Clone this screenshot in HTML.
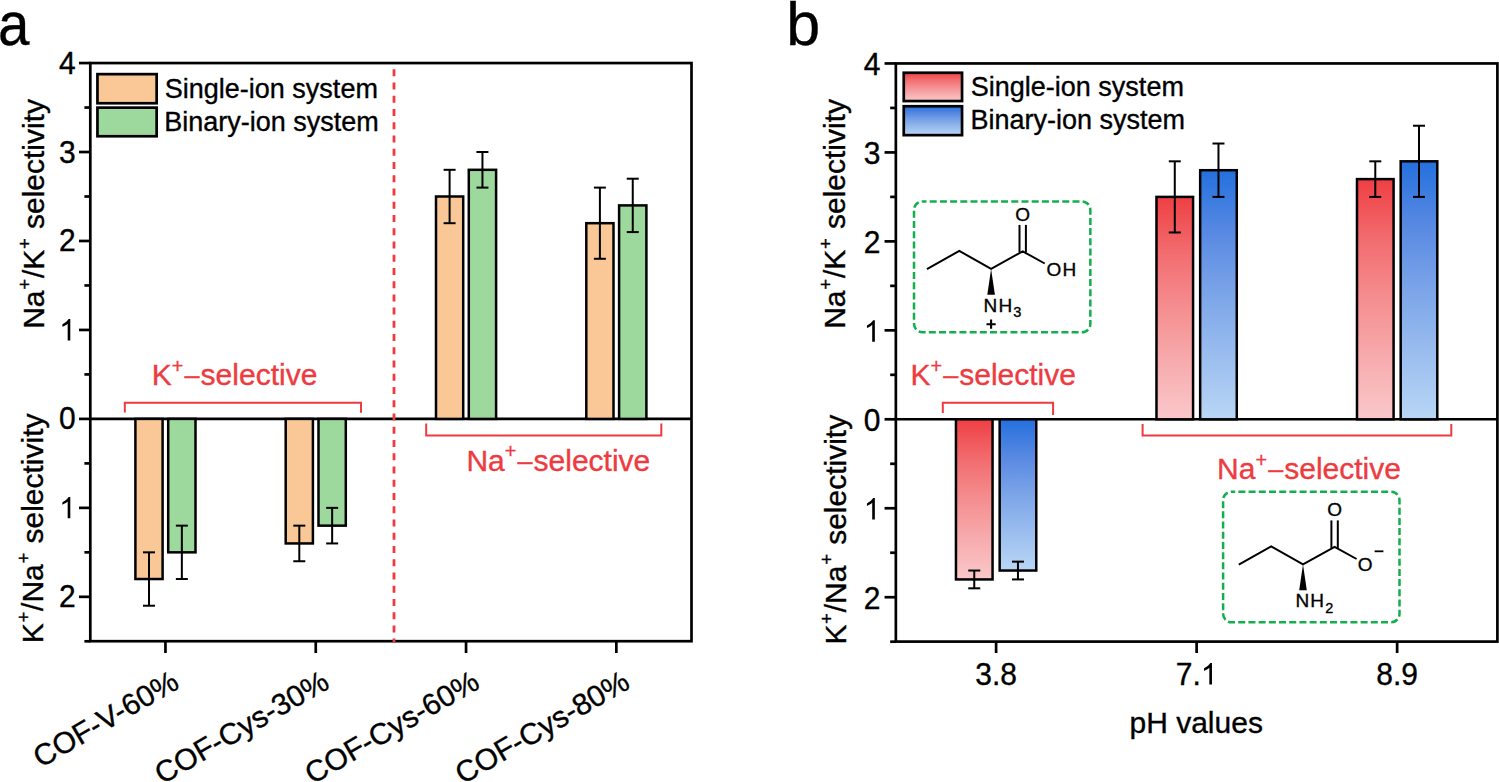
<!DOCTYPE html>
<html><head><meta charset="utf-8"><style>
html,body{margin:0;padding:0;background:#fff;}
svg{display:block;font-family:"Liberation Sans", sans-serif;}
text{stroke:#000;stroke-width:0.35px;}
text.r{stroke:#ED3B3F;}
</style></head><body>
<svg width="1499" height="782" viewBox="0 0 1499 782" font-family='"Liberation Sans", sans-serif'>
<defs><linearGradient id="gr" x1="0" y1="0" x2="0" y2="1"><stop offset="0" stop-color="#EF3F43"/><stop offset=".25" stop-color="#F26C6F"/><stop offset=".5" stop-color="#F58E90"/><stop offset=".75" stop-color="#F7ACAE"/><stop offset="1" stop-color="#FAC8CA"/></linearGradient><linearGradient id="gb" x1="0" y1="0" x2="0" y2="1"><stop offset="0" stop-color="#2470DE"/><stop offset=".25" stop-color="#5889E2"/><stop offset=".5" stop-color="#7CA5E8"/><stop offset=".75" stop-color="#9BBEEF"/><stop offset="1" stop-color="#B9D6F5"/></linearGradient><path id="one" d="M763,0 L583,0 L583,1147 Q518,1085 412,1023 Q307,961 223,930 L223,1104 Q374,1175 487,1276 Q600,1377 647,1466 L763,1466 Z"/></defs>
<rect width="1499" height="782" fill="#fff"/>
<text x="0" y="0" font-size="61" transform="translate(-2.07 44.9) scale(0.925 1)">a</text>
<rect x="90.3" y="63.06" width="601.2" height="578.14" fill="none" stroke="#000" stroke-width="2.7"/>
<line x1="90.3" y1="63.06" x2="79" y2="63.06" stroke="#000" stroke-width="2.7" />
<text x="0" y="0" font-size="30" text-anchor="end" transform="translate(75.8 73.56) scale(1 1.04)">4</text>
<line x1="90.3" y1="152.02" x2="79" y2="152.02" stroke="#000" stroke-width="2.7" />
<text x="0" y="0" font-size="30" text-anchor="end" transform="translate(75.8 162.52) scale(1 1.04)">3</text>
<line x1="90.3" y1="240.98" x2="79" y2="240.98" stroke="#000" stroke-width="2.7" />
<text x="0" y="0" font-size="30" text-anchor="end" transform="translate(75.8 251.48) scale(1 1.04)">2</text>
<line x1="90.3" y1="329.94" x2="79" y2="329.94" stroke="#000" stroke-width="2.7" />
<use href="#one" transform="translate(59.12 340.44) scale(0.01465 -0.01465)"/>
<line x1="90.3" y1="418.9" x2="79" y2="418.9" stroke="#000" stroke-width="2.7" />
<text x="0" y="0" font-size="30" text-anchor="end" transform="translate(75.8 429.4) scale(1 1.04)">0</text>
<line x1="90.3" y1="507.86" x2="79" y2="507.86" stroke="#000" stroke-width="2.7" />
<use href="#one" transform="translate(59.12 518.36) scale(0.01465 -0.01465)"/>
<line x1="90.3" y1="596.82" x2="79" y2="596.82" stroke="#000" stroke-width="2.7" />
<text x="0" y="0" font-size="30" text-anchor="end" transform="translate(75.8 607.32) scale(1 1.04)">2</text>
<line x1="90.3" y1="107.54" x2="84.4" y2="107.54" stroke="#000" stroke-width="2.7" />
<line x1="90.3" y1="196.5" x2="84.4" y2="196.5" stroke="#000" stroke-width="2.7" />
<line x1="90.3" y1="285.46" x2="84.4" y2="285.46" stroke="#000" stroke-width="2.7" />
<line x1="90.3" y1="374.42" x2="84.4" y2="374.42" stroke="#000" stroke-width="2.7" />
<line x1="90.3" y1="463.38" x2="84.4" y2="463.38" stroke="#000" stroke-width="2.7" />
<line x1="90.3" y1="552.34" x2="84.4" y2="552.34" stroke="#000" stroke-width="2.7" />
<line x1="90.3" y1="641.3" x2="84.4" y2="641.3" stroke="#000" stroke-width="2.7" />
<line x1="90.3" y1="418.9" x2="691.5" y2="418.9" stroke="#000" stroke-width="2.6" />
<line x1="394" y1="69.3" x2="394" y2="642.5" stroke="#EE3A40" stroke-width="2.8" stroke-dasharray="7 6.24"/>
<rect x="135.4" y="418.9" width="27.2" height="160.13" fill="#FAC896" stroke="#000" stroke-width="2.5"/>
<rect x="168.2" y="418.9" width="27.3" height="133.44" fill="#9DD99C" stroke="#000" stroke-width="2.5"/>
<line x1="149" y1="605.72" x2="149" y2="552.34" stroke="#000" stroke-width="2.0" />
<line x1="143" y1="605.72" x2="155" y2="605.72" stroke="#000" stroke-width="2.0" />
<line x1="143" y1="552.34" x2="155" y2="552.34" stroke="#000" stroke-width="2.0" />
<line x1="181.85" y1="579.03" x2="181.85" y2="525.65" stroke="#000" stroke-width="2.0" />
<line x1="175.85" y1="579.03" x2="187.85" y2="579.03" stroke="#000" stroke-width="2.0" />
<line x1="175.85" y1="525.65" x2="187.85" y2="525.65" stroke="#000" stroke-width="2.0" />
<line x1="165.45" y1="641.2" x2="165.45" y2="653" stroke="#000" stroke-width="2.7" />
<rect x="285.7" y="418.9" width="27.2" height="124.54" fill="#FAC896" stroke="#000" stroke-width="2.5"/>
<rect x="318.5" y="418.9" width="27.3" height="106.75" fill="#9DD99C" stroke="#000" stroke-width="2.5"/>
<line x1="299.3" y1="561.24" x2="299.3" y2="525.65" stroke="#000" stroke-width="2.0" />
<line x1="293.3" y1="561.24" x2="305.3" y2="561.24" stroke="#000" stroke-width="2.0" />
<line x1="293.3" y1="525.65" x2="305.3" y2="525.65" stroke="#000" stroke-width="2.0" />
<line x1="332.15" y1="543.44" x2="332.15" y2="507.86" stroke="#000" stroke-width="2.0" />
<line x1="326.15" y1="543.44" x2="338.15" y2="543.44" stroke="#000" stroke-width="2.0" />
<line x1="326.15" y1="507.86" x2="338.15" y2="507.86" stroke="#000" stroke-width="2.0" />
<line x1="315.75" y1="641.2" x2="315.75" y2="653" stroke="#000" stroke-width="2.7" />
<rect x="436" y="196.5" width="27.2" height="222.4" fill="#FAC896" stroke="#000" stroke-width="2.5"/>
<rect x="468.8" y="169.81" width="27.3" height="249.09" fill="#9DD99C" stroke="#000" stroke-width="2.5"/>
<line x1="449.6" y1="223.19" x2="449.6" y2="169.81" stroke="#000" stroke-width="2.0" />
<line x1="443.6" y1="223.19" x2="455.6" y2="223.19" stroke="#000" stroke-width="2.0" />
<line x1="443.6" y1="169.81" x2="455.6" y2="169.81" stroke="#000" stroke-width="2.0" />
<line x1="482.45" y1="187.6" x2="482.45" y2="152.02" stroke="#000" stroke-width="2.0" />
<line x1="476.45" y1="187.6" x2="488.45" y2="187.6" stroke="#000" stroke-width="2.0" />
<line x1="476.45" y1="152.02" x2="488.45" y2="152.02" stroke="#000" stroke-width="2.0" />
<line x1="466.05" y1="641.2" x2="466.05" y2="653" stroke="#000" stroke-width="2.7" />
<rect x="586.3" y="223.19" width="27.2" height="195.71" fill="#FAC896" stroke="#000" stroke-width="2.5"/>
<rect x="619.1" y="205.4" width="27.3" height="213.5" fill="#9DD99C" stroke="#000" stroke-width="2.5"/>
<line x1="599.9" y1="258.77" x2="599.9" y2="187.6" stroke="#000" stroke-width="2.0" />
<line x1="593.9" y1="258.77" x2="605.9" y2="258.77" stroke="#000" stroke-width="2.0" />
<line x1="593.9" y1="187.6" x2="605.9" y2="187.6" stroke="#000" stroke-width="2.0" />
<line x1="632.75" y1="232.08" x2="632.75" y2="178.71" stroke="#000" stroke-width="2.0" />
<line x1="626.75" y1="232.08" x2="638.75" y2="232.08" stroke="#000" stroke-width="2.0" />
<line x1="626.75" y1="178.71" x2="638.75" y2="178.71" stroke="#000" stroke-width="2.0" />
<line x1="616.35" y1="641.2" x2="616.35" y2="653" stroke="#000" stroke-width="2.7" />
<rect x="97.45" y="74.15" width="59.2" height="29.1" fill="#FAC896" stroke="#000" stroke-width="2.7"/>
<rect x="97.45" y="107.65" width="59.2" height="28.6" fill="#9DD99C" stroke="#000" stroke-width="2.7"/>
<text x="164.8" y="97.6" font-size="27" text-anchor="start" fill="#000" >Single-ion system</text>
<text x="164.2" y="131" font-size="27" text-anchor="start" fill="#000" >Binary-ion system</text>
<path d="M124.8,412.5 V402.8 H361 V412.7" fill="none" stroke="#ED3B3F" stroke-width="2"/>
<path d="M426.2,423.6 V435.6 H661.3 V423.6" fill="none" stroke="#ED3B3F" stroke-width="2"/>
<text class="r" x="151.8" y="385" font-size="30" fill="#ED3B3F">K<tspan font-size="19.8" dy="-12.5">+</tspan><tspan font-size="27" dx="1.2" dy="11.5">–</tspan><tspan dx="1" dy="1">selective</tspan></text>
<text class="r" x="466.4" y="470.8" font-size="30" fill="#ED3B3F">Na<tspan font-size="19.8" dy="-12.5">+</tspan><tspan font-size="27" dx="1.2" dy="11.5">–</tspan><tspan dx="1" dy="1">selective</tspan></text>
<text x="180.75" y="687.3" font-size="30" text-anchor="end" transform="rotate(-30 180.75 687.3)">COF-V-60%</text>
<text x="331.05" y="687.3" font-size="30" text-anchor="end" transform="rotate(-30 331.05 687.3)">COF-Cys-30%</text>
<text x="481.35" y="687.3" font-size="30" text-anchor="end" transform="rotate(-30 481.35 687.3)">COF-Cys-60%</text>
<text x="631.65" y="687.3" font-size="30" text-anchor="end" transform="rotate(-30 631.65 687.3)">COF-Cys-80%</text>
<text x="0" y="0" font-size="30" transform="translate(43.8 328.8) rotate(-90)">Na<tspan font-size="18.6" dy="-13" dx="0.7">+</tspan><tspan dy="13" dx="0.8">/K</tspan><tspan font-size="18.6" dy="-13" dx="0.7">+</tspan><tspan dy="13" dx="0.8"> selectivity</tspan></text>
<text x="0" y="0" font-size="30" transform="translate(42.6 643.3) rotate(-90)">K<tspan font-size="18.6" dy="-13" dx="0.7">+</tspan><tspan dy="13" dx="0.8">/Na</tspan><tspan font-size="18.6" dy="-13" dx="0.7">+</tspan><tspan dy="13" dx="0.8"> selectivity</tspan></text>
<text x="786.3" y="44.9" font-size="61" text-anchor="start" fill="#000" >b</text>
<rect x="895.85" y="63.45" width="601.55" height="578.15" fill="none" stroke="#000" stroke-width="2.7"/>
<line x1="895.85" y1="63.46" x2="884.55" y2="63.46" stroke="#000" stroke-width="2.7" />
<text x="0" y="0" font-size="30" text-anchor="end" transform="translate(880.35 74.76) scale(1 1.04)">4</text>
<line x1="895.85" y1="152.42" x2="884.55" y2="152.42" stroke="#000" stroke-width="2.7" />
<text x="0" y="0" font-size="30" text-anchor="end" transform="translate(880.35 163.72) scale(1 1.04)">3</text>
<line x1="895.85" y1="241.38" x2="884.55" y2="241.38" stroke="#000" stroke-width="2.7" />
<text x="0" y="0" font-size="30" text-anchor="end" transform="translate(880.35 252.68) scale(1 1.04)">2</text>
<line x1="895.85" y1="330.34" x2="884.55" y2="330.34" stroke="#000" stroke-width="2.7" />
<use href="#one" transform="translate(863.67 341.64) scale(0.01465 -0.01465)"/>
<line x1="895.85" y1="419.3" x2="884.55" y2="419.3" stroke="#000" stroke-width="2.7" />
<text x="0" y="0" font-size="30" text-anchor="end" transform="translate(880.35 430.6) scale(1 1.04)">0</text>
<line x1="895.85" y1="508.26" x2="884.55" y2="508.26" stroke="#000" stroke-width="2.7" />
<use href="#one" transform="translate(863.67 519.56) scale(0.01465 -0.01465)"/>
<line x1="895.85" y1="597.22" x2="884.55" y2="597.22" stroke="#000" stroke-width="2.7" />
<text x="0" y="0" font-size="30" text-anchor="end" transform="translate(880.35 608.52) scale(1 1.04)">2</text>
<line x1="895.85" y1="107.94" x2="890.15" y2="107.94" stroke="#000" stroke-width="2.7" />
<line x1="895.85" y1="196.9" x2="890.15" y2="196.9" stroke="#000" stroke-width="2.7" />
<line x1="895.85" y1="285.86" x2="890.15" y2="285.86" stroke="#000" stroke-width="2.7" />
<line x1="895.85" y1="374.82" x2="890.15" y2="374.82" stroke="#000" stroke-width="2.7" />
<line x1="895.85" y1="463.78" x2="890.15" y2="463.78" stroke="#000" stroke-width="2.7" />
<line x1="895.85" y1="552.74" x2="890.15" y2="552.74" stroke="#000" stroke-width="2.7" />
<line x1="895.85" y1="641.7" x2="890.15" y2="641.7" stroke="#000" stroke-width="2.7" />
<line x1="895.85" y1="419.3" x2="1497.4" y2="419.3" stroke="#000" stroke-width="2.6" />
<rect x="955.96" y="419.3" width="36.6" height="160.13" fill="url(#gr)" stroke="#000" stroke-width="2.5"/>
<rect x="999.66" y="419.3" width="36.6" height="151.23" fill="url(#gb)" stroke="#000" stroke-width="2.5"/>
<line x1="974.26" y1="588.32" x2="974.26" y2="570.53" stroke="#000" stroke-width="2.0" />
<line x1="968.26" y1="588.32" x2="980.26" y2="588.32" stroke="#000" stroke-width="2.0" />
<line x1="968.26" y1="570.53" x2="980.26" y2="570.53" stroke="#000" stroke-width="2.0" />
<line x1="1017.96" y1="579.43" x2="1017.96" y2="561.64" stroke="#000" stroke-width="2.0" />
<line x1="1011.96" y1="579.43" x2="1023.96" y2="579.43" stroke="#000" stroke-width="2.0" />
<line x1="1011.96" y1="561.64" x2="1023.96" y2="561.64" stroke="#000" stroke-width="2.0" />
<line x1="996.11" y1="641.6" x2="996.11" y2="653" stroke="#000" stroke-width="2.7" />
<rect x="1156.47" y="196.9" width="36.6" height="222.4" fill="url(#gr)" stroke="#000" stroke-width="2.5"/>
<rect x="1200.17" y="170.21" width="36.6" height="249.09" fill="url(#gb)" stroke="#000" stroke-width="2.5"/>
<line x1="1174.78" y1="232.48" x2="1174.78" y2="161.32" stroke="#000" stroke-width="2.0" />
<line x1="1168.78" y1="232.48" x2="1180.78" y2="232.48" stroke="#000" stroke-width="2.0" />
<line x1="1168.78" y1="161.32" x2="1180.78" y2="161.32" stroke="#000" stroke-width="2.0" />
<line x1="1218.47" y1="196.9" x2="1218.47" y2="143.52" stroke="#000" stroke-width="2.0" />
<line x1="1212.47" y1="196.9" x2="1224.47" y2="196.9" stroke="#000" stroke-width="2.0" />
<line x1="1212.47" y1="143.52" x2="1224.47" y2="143.52" stroke="#000" stroke-width="2.0" />
<line x1="1196.62" y1="641.6" x2="1196.62" y2="653" stroke="#000" stroke-width="2.7" />
<rect x="1356.99" y="179.11" width="36.6" height="240.19" fill="url(#gr)" stroke="#000" stroke-width="2.5"/>
<rect x="1400.69" y="161.32" width="36.6" height="257.98" fill="url(#gb)" stroke="#000" stroke-width="2.5"/>
<line x1="1375.29" y1="196.9" x2="1375.29" y2="161.32" stroke="#000" stroke-width="2.0" />
<line x1="1369.29" y1="196.9" x2="1381.29" y2="196.9" stroke="#000" stroke-width="2.0" />
<line x1="1369.29" y1="161.32" x2="1381.29" y2="161.32" stroke="#000" stroke-width="2.0" />
<line x1="1418.99" y1="196.9" x2="1418.99" y2="125.73" stroke="#000" stroke-width="2.0" />
<line x1="1412.99" y1="196.9" x2="1424.99" y2="196.9" stroke="#000" stroke-width="2.0" />
<line x1="1412.99" y1="125.73" x2="1424.99" y2="125.73" stroke="#000" stroke-width="2.0" />
<line x1="1397.14" y1="641.6" x2="1397.14" y2="653" stroke="#000" stroke-width="2.7" />
<text x="0" y="0" font-size="30" text-anchor="middle" transform="translate(996.11 684.5) scale(1 1.04)">3.8</text>
<text x="0" y="0" font-size="30" transform="translate(1175.77 684.5) scale(1 1.04)">7.</text>
<use href="#one" transform="translate(1200.79 684.5) scale(0.01465 -0.01465)"/>
<text x="0" y="0" font-size="30" text-anchor="middle" transform="translate(1397.14 684.5) scale(1 1.04)">8.9</text>
<text x="1196.2" y="733.3" font-size="30" text-anchor="middle" fill="#000" >pH values</text>
<rect x="903.75" y="72.75" width="58.3" height="28.3" fill="url(#gr)" stroke="#000" stroke-width="2.7"/>
<rect x="903.75" y="106.25" width="58.3" height="28.9" fill="url(#gb)" stroke="#000" stroke-width="2.7"/>
<text x="970.8" y="96.2" font-size="27" text-anchor="start" fill="#000" >Single-ion system</text>
<text x="970.5" y="128.9" font-size="27" text-anchor="start" fill="#000" >Binary-ion system</text>
<path d="M942.8,413 V402.8 H1053.1 V415" fill="none" stroke="#ED3B3F" stroke-width="2"/>
<path d="M1142.6,424 V435.4 H1451.3 V424" fill="none" stroke="#ED3B3F" stroke-width="2"/>
<text class="r" x="910.4" y="385" font-size="30" fill="#ED3B3F">K<tspan font-size="19.8" dy="-12.5">+</tspan><tspan font-size="27" dx="1.2" dy="11.5">–</tspan><tspan dx="1" dy="1">selective</tspan></text>
<text class="r" x="1217.1" y="479.3" font-size="30" fill="#ED3B3F">Na<tspan font-size="19.8" dy="-12.5">+</tspan><tspan font-size="27" dx="1.2" dy="11.5">–</tspan><tspan dx="1" dy="1">selective</tspan></text>
<text x="0" y="0" font-size="30" transform="translate(845.3 328.8) rotate(-90)">Na<tspan font-size="18.6" dy="-13" dx="0.7">+</tspan><tspan dy="13" dx="0.8">/K</tspan><tspan font-size="18.6" dy="-13" dx="0.7">+</tspan><tspan dy="13" dx="0.8"> selectivity</tspan></text>
<text x="0" y="0" font-size="30" transform="translate(845.7 644.6) rotate(-90)">K<tspan font-size="18.6" dy="-13" dx="0.7">+</tspan><tspan dy="13" dx="0.8">/Na</tspan><tspan font-size="18.6" dy="-13" dx="0.7">+</tspan><tspan dy="13" dx="0.8"> selectivity</tspan></text>
<rect x="914" y="201.4" width="176.35" height="130.9" rx="8.5" fill="none" stroke="#14AE4E" stroke-width="2.5" stroke-dasharray="7 3.2" stroke-dashoffset="3.0"/>
<rect x="1223.1" y="491.65" width="176.4" height="130.7" rx="8.5" fill="none" stroke="#14AE4E" stroke-width="2.5" stroke-dasharray="7 3.2" stroke-dashoffset="3.4"/>
<g transform="translate(991.1 268.9)" stroke="#000" stroke-width="2" fill="none" stroke-linejoin="miter" stroke-linecap="butt">
<polyline points="-64.2,0.2 -31.8,-18 0,0 31.6,-17.6 53.6,-5.4"/>
<line x1="28.4" y1="-44" x2="28.4" y2="-16.5"/><line x1="34.8" y1="-44" x2="34.8" y2="-16.5"/>
</g>
<g transform="translate(991.1 268.9)" font-size="19" fill="#000">
<path d="M0,0 L-3.8,25.8 L3.8,25.8 Z" fill="#000"/>
<text x="31.6" y="-48.2" text-anchor="middle">O</text>
<text x="55.5" y="6.9">O<tspan dx="1.1">H</tspan></text>
<text x="-7.5" y="43">N<tspan dx="1.1">H</tspan><tspan font-size="14.5" dx="1.1" dy="5.1">3</tspan></text>
<path d="M-4.6,55.3 H4.6 M0,50.7 V59.9" stroke="#000" stroke-width="2.1"/>
</g>
<g transform="translate(1303 564.4)" stroke="#000" stroke-width="2" fill="none" stroke-linejoin="miter" stroke-linecap="butt">
<polyline points="-64.2,0.2 -31.8,-18 0,0 31.6,-17.6 53.6,-5.4"/>
<line x1="28.4" y1="-44" x2="28.4" y2="-16.5"/><line x1="34.8" y1="-44" x2="34.8" y2="-16.5"/>
</g>
<g transform="translate(1303 564.4)" font-size="19" fill="#000">
<path d="M0,0 L-3.8,25.8 L3.8,25.8 Z" fill="#000"/>
<text x="31.6" y="-48.2" text-anchor="middle">O</text>
<text x="54.7" y="6.8">O</text>
<path d="M71.6,-13.1 H80.4" stroke="#000" stroke-width="1.8"/>
<text x="-7.5" y="43">N<tspan dx="1.1">H</tspan><tspan font-size="14.5" dx="1.1" dy="5.4">2</tspan></text>
</g>
</svg>
</body></html>
